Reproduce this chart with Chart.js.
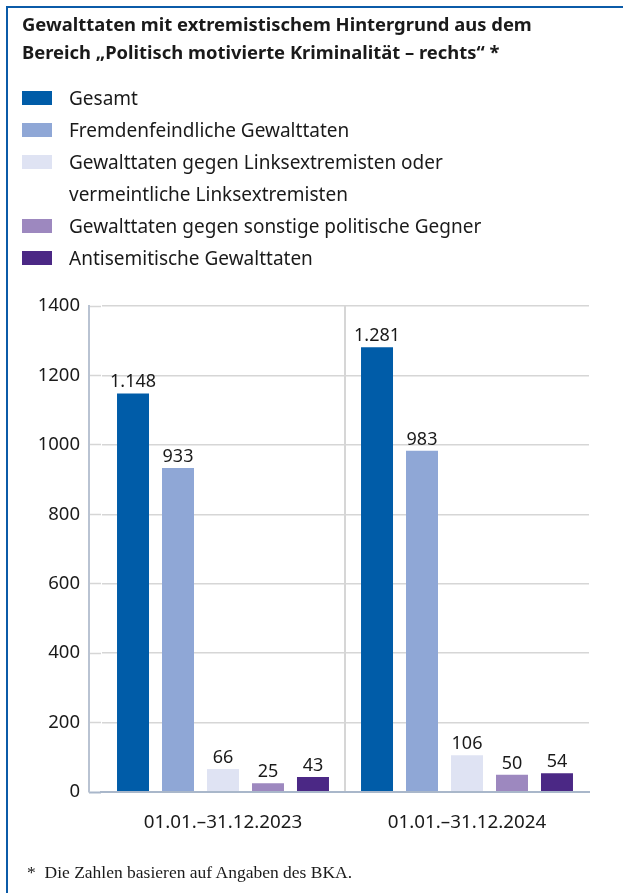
<!DOCTYPE html>
<html lang="de">
<head>
<meta charset="utf-8">
<title>PMK rechts – Gewalttaten</title>
<script src="https://cdn.jsdelivr.net/npm/chart.js@4.4.1/dist/chart.umd.min.js"></script>
<style>
  html, body { margin: 0; padding: 0; background: #fff; }
  body {
    width: 623px; height: 893px; position: relative; overflow: hidden;
    font-family: "Noto Sans", sans-serif; color: #1a1a1a;
  }
  .frame {
    position: absolute; left: 6px; top: 6px; right: -10px; bottom: -10px;
    border-top: 2px solid #0b5ba8; border-left: 2px solid #0b5ba8;
  }
  #chart { position: absolute; left: 0; top: 0; }
  .title {
    position: absolute; left: 22px; top: 10px;
    font-weight: 700; font-size: 18.4px; line-height: 28px;
  }
  .legend { position: absolute; left: 22px; top: 82px; font-size: 19px; }
  .legend .row { display: flex; align-items: flex-start; }
  .legend .sw { width: 30px; height: 14px; margin-top: 9px; flex: none; }
  .legend .txt { margin-left: 17px; line-height: 32px; max-width: 470px; }
  .footnote {
    position: absolute; left: 27px; top: 862px;
    font-family: "Liberation Serif", serif; font-size: 17.5px; line-height: 20px;
  }
</style>
</head>
<body>
<div class="frame"></div>
<canvas id="chart" width="623" height="893"></canvas>
<div class="title">Gewalttaten mit extremistischem Hintergrund aus dem<br>Bereich „Politisch motivierte Kriminalität – rechts“ *</div>
<div class="legend" id="legend"></div>
<div class="footnote">*&nbsp; Die Zahlen basieren auf Angaben des BKA.</div>

<script>
// Daten
const categories = ['01.01.–31.12.2023', '01.01.–31.12.2024'];
const seriesNames = [
  'Gesamt',
  'Fremdenfeindliche Gewalttaten',
  'Gewalttaten gegen Linksextremisten oder vermeintliche Linksextremisten',
  'Gewalttaten gegen sonstige politische Gegner',
  'Antisemitische Gewalttaten'
];
const gesamt = [1148, 1281];
const fremdenfeindlich = [933, 983];
const gegenLinks = [66, 106];
const gegenSonstige = [25, 50];
const antisemitisch = [43, 54];
const yTicks = [0, 200, 400, 600, 800, 1000, 1200, 1400];

const seriesColors = ['#005ca8', '#8fa7d6', '#dfe3f3', '#9d88bf', '#4b2885'];
const seriesValues = [gesamt, fremdenfeindlich, gegenLinks, gegenSonstige, antisemitisch];

const gridColor = '#d6d6d6';
const axisColor = '#a9b7ca';

// Legende als HTML
const legendEl = document.getElementById('legend');
seriesNames.forEach((name, i) => {
  const row = document.createElement('div');
  row.className = 'row';
  row.innerHTML = '<div class="sw" style="background:' + seriesColors[i] + '"></div><div class="txt">' + name + '</div>';
  legendEl.appendChild(row);
});

function fmt(v) {
  return String(v).replace(/\B(?=(\d{3})+(?!\d))/g, '.');
}

const valueLabels = {
  id: 'valueLabels',
  afterDatasetsDraw(chart) {
    const ctx = chart.ctx;
    ctx.save();
    ctx.font = '18px "Noto Sans"';
    ctx.fillStyle = '#1a1a1a';
    ctx.textAlign = 'center';
    ctx.textBaseline = 'alphabetic';
    chart.data.datasets.forEach((ds, i) => {
      chart.getDatasetMeta(i).data.forEach((bar, j) => {
        ctx.fillText(fmt(ds.data[j]), bar.x, bar.y - 6);
      });
    });
    ctx.restore();
  }
};

Chart.defaults.font.family = '"Noto Sans", sans-serif';
Chart.defaults.font.size = 18.5;
Chart.defaults.color = '#1a1a1a';

new Chart(document.getElementById('chart'), {
  type: 'bar',
  data: {
    labels: categories,
    datasets: seriesNames.map((name, i) => ({
      label: name,
      data: seriesValues[i],
      backgroundColor: seriesColors[i],
      borderWidth: 0,
      categoryPercentage: 0.922,
      barPercentage: 0.711
    }))
  },
  options: {
    responsive: false,
    animation: false,
    devicePixelRatio: 1,
    layout: { padding: { top: 306, right: 34, bottom: 51, left: 0 } },
    plugins: {
      legend: { display: false },
      tooltip: { enabled: false }
    },
    scales: {
      x: {
        grid: {
          offset: true,
          drawTicks: false,
          color: (c) => c.index === 1 ? gridColor : 'transparent',
          lineWidth: 2
        },
        border: { display: true, color: axisColor, width: 2, z: 1 },
        ticks: { padding: 19, maxRotation: 0, autoSkip: false, font: { size: 18.8 } },
        afterFit: (s) => { s.height = 50; }
      },
      y: {
        position: 'left',
        weight: 10,
        min: yTicks[0],
        max: yTicks[yTicks.length - 1],
        afterBuildTicks: (s) => { s.ticks = yTicks.map((v) => ({ value: v })); },
        ticks: { padding: 9, callback: (v) => String(v) },
        grid: { color: gridColor, lineWidth: 1.5, drawTicks: false },
        border: { display: true, color: '#b9c3d2', width: 2 },
        afterFit: (s) => { s.width = 89; }
      },
      y2: {
        position: 'left',
        weight: 0,
        min: yTicks[0],
        max: yTicks[yTicks.length - 1],
        afterBuildTicks: (s) => { s.ticks = yTicks.map((v) => ({ value: v })); },
        ticks: { display: false },
        grid: {
          drawOnChartArea: false,
          drawTicks: true,
          tickLength: 12,
          tickColor: (c) => c.index === 0 ? axisColor : gridColor,
          tickWidth: (c) => c.index === 0 ? 2 : 1.5
        },
        border: { display: false },
        afterFit: (s) => { s.width = 12; }
      }
    }
  },
  plugins: [valueLabels]
});
</script>
</body>
</html>
